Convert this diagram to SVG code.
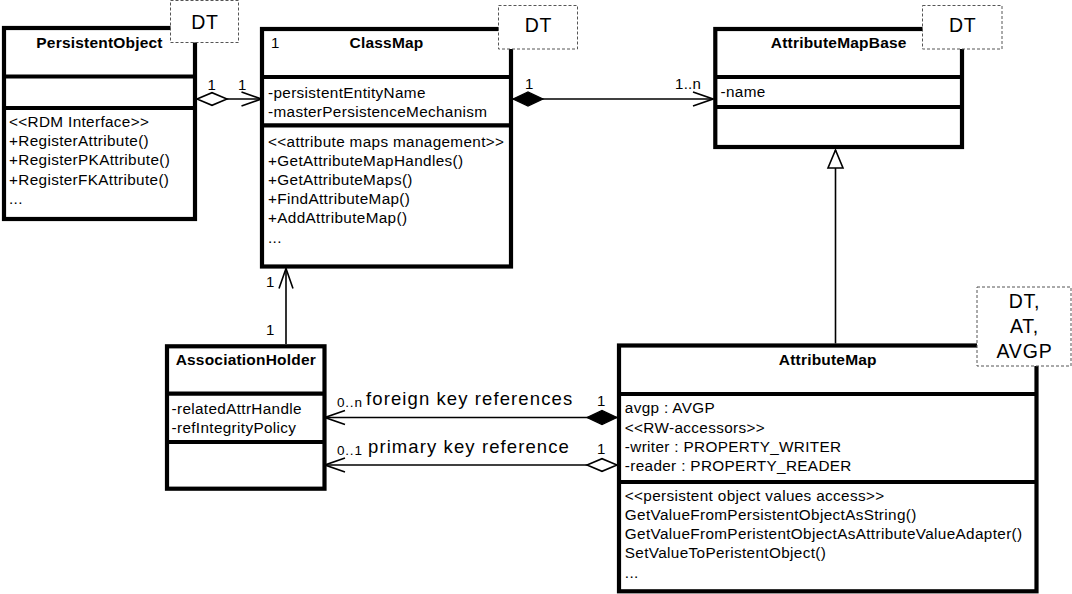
<svg xmlns="http://www.w3.org/2000/svg" width="1072" height="594" viewBox="0 0 1072 594">
<style>
  text { font-family: "Liberation Sans", Arial, sans-serif; fill: #000; }
  .box { fill: #fff; stroke: #000; stroke-width: 4.2; }
  .div { stroke: #000; stroke-width: 4.2; }
  .t { font-size: 15.5px; font-weight: bold; letter-spacing: 0.2px; text-anchor: middle; }
  .m { font-size: 15.3px; letter-spacing: 0.35px; }
  .lbl { font-size: 15px; letter-spacing: 0.3px; }
  .sm { font-size: 13.5px; letter-spacing: 0.8px; }
  .big { font-size: 18.5px; letter-spacing: 1.1px; }
  .note { fill: #fff; stroke: #555; stroke-width: 1; stroke-dasharray: 3 2; }
  .dt { font-size: 19.5px; letter-spacing: 0.8px; text-anchor: middle; }
  .con { fill: none; stroke: #000; stroke-width: 1.6; }
</style>
<defs>
  <marker id="open" viewBox="-22 -9 24 18" refX="0" refY="0" markerWidth="24" markerHeight="18" markerUnits="userSpaceOnUse" orient="auto">
    <path d="M -20 -7 L 0 0 L -20 7" fill="none" stroke="#000" stroke-width="1.6"/>
  </marker>
  <marker id="dfill" viewBox="-2 -9 34 18" refX="0" refY="0" markerWidth="34" markerHeight="18" markerUnits="userSpaceOnUse" orient="auto">
    <path d="M 0 0 L 15 -7 L 30 0 L 15 7 Z" fill="#000" stroke="#000" stroke-width="1.2"/>
  </marker>
  <marker id="dhollow" viewBox="-2 -9 34 18" refX="0" refY="0" markerWidth="34" markerHeight="18" markerUnits="userSpaceOnUse" orient="auto">
    <path d="M 0 0 L 15 -6.3 L 30 0 L 15 6.3 Z" fill="#fff" stroke="#000" stroke-width="1.6"/>
  </marker>
  <marker id="tri" viewBox="-20 -10 22 20" refX="0" refY="0" markerWidth="22" markerHeight="20" markerUnits="userSpaceOnUse" orient="auto">
    <path d="M 0 0 L -18 -7.5 L -18 7.5 Z" fill="#fff" stroke="#000" stroke-width="1.6"/>
  </marker>
</defs>
<rect width="1072" height="594" fill="#fff"/>

<g id="connectors">
  <line class="con" x1="197" y1="99" x2="261.5" y2="99" marker-start="url(#dhollow)" marker-end="url(#open)"/>
  <line class="con" x1="513" y1="99" x2="713" y2="99" marker-start="url(#dfill)" marker-end="url(#open)"/>
  <line class="con" x1="286" y1="344" x2="286" y2="268.5" marker-end="url(#open)"/>
  <line class="con" x1="835.5" y1="343.5" x2="835.5" y2="150" marker-end="url(#tri)"/>
  <line class="con" x1="617" y1="417.5" x2="325" y2="417.5" marker-start="url(#dfill)" marker-end="url(#open)"/>
  <line class="con" x1="617" y1="465" x2="325" y2="465" marker-start="url(#dhollow)" marker-end="url(#open)"/>
  <text class="lbl" x="207.5" y="90">1</text>
  <text class="lbl" x="238" y="90">1</text>
  <text class="lbl" x="525" y="89">1</text>
  <text class="lbl" x="675" y="89">1..n</text>
  <text class="lbl" x="266" y="287">1</text>
  <text class="lbl" x="266" y="335">1</text>
  <text class="sm" x="337" y="407">0..n</text>
  <text class="big" x="366" y="405">foreign key references</text>
  <text class="lbl" x="597" y="406">1</text>
  <text class="sm" x="337" y="455">0..1</text>
  <text class="big" x="368" y="453">primary key reference</text>
  <text class="lbl" x="597" y="454">1</text>
</g>

<g id="PersistentObject">
  <rect class="box" x="4" y="28" width="191" height="191"/>
  <line class="div" x1="4" y1="76.5" x2="195" y2="76.5"/>
  <line class="div" x1="4" y1="108" x2="195" y2="108"/>
  <text class="t" x="99.5" y="48">PersistentObject</text>
  <text class="m" x="9" y="127">&lt;&lt;RDM Interface&gt;&gt;</text>
  <text class="m" x="9" y="146.2">+RegisterAttribute()</text>
  <text class="m" x="9" y="165.4">+RegisterPKAttribute()</text>
  <text class="m" x="9" y="184.6">+RegisterFKAttribute()</text>
  <text class="m" x="9" y="203.8">...</text>
  <rect class="note" x="170.5" y="0.5" width="68" height="42"/>
  <text class="dt" x="205" y="29">DT</text>
</g>

<g id="ClassMap">
  <rect class="box" x="262" y="29" width="249" height="237.5"/>
  <line class="div" x1="262" y1="77" x2="511" y2="77"/>
  <line class="div" x1="262" y1="125.3" x2="511" y2="125.3"/>
  <text class="lbl" x="271" y="47.7">1</text>
  <text class="t" x="386.5" y="47.7">ClassMap</text>
  <text class="m" x="268" y="97.7">-persistentEntityName</text>
  <text class="m" x="268" y="116.8">-masterPersistenceMechanism</text>
  <text class="m" x="268" y="146.6">&lt;&lt;attribute maps management&gt;&gt;</text>
  <text class="m" x="268" y="165.8">+GetAttributeMapHandles()</text>
  <text class="m" x="268" y="185">+GetAttributeMaps()</text>
  <text class="m" x="268" y="204.2">+FindAttributeMap()</text>
  <text class="m" x="268" y="223.4">+AddAttributeMap()</text>
  <text class="m" x="268" y="242.6">...</text>
  <rect class="note" x="498.5" y="5.5" width="79" height="43.5"/>
  <text class="dt" x="538.5" y="32">DT</text>
</g>

<g id="AttributeMapBase">
  <rect class="box" x="715.3" y="29" width="246.7" height="118"/>
  <line class="div" x1="715.3" y1="77" x2="962" y2="77"/>
  <line class="div" x1="715.3" y1="107" x2="962" y2="107"/>
  <text class="t" x="838.7" y="47.7">AttributeMapBase</text>
  <text class="m" x="720.5" y="96.7">-name</text>
  <rect class="note" x="922.5" y="5.5" width="79.5" height="43.5"/>
  <text class="dt" x="962.7" y="32">DT</text>
</g>

<g id="AssociationHolder">
  <rect class="box" x="167" y="346.3" width="157.5" height="142.4"/>
  <line class="div" x1="167" y1="393.7" x2="324.5" y2="393.7"/>
  <line class="div" x1="167" y1="442" x2="324.5" y2="442"/>
  <text class="t" x="245.8" y="365">AssociationHolder</text>
  <text class="m" x="171.5" y="414">-relatedAttrHandle</text>
  <text class="m" x="171.5" y="432.8">-refIntegrityPolicy</text>
</g>

<g id="AttributeMap">
  <rect class="box" x="619" y="345.5" width="417.5" height="245.8"/>
  <line class="div" x1="619" y1="394" x2="1036.5" y2="394"/>
  <line class="div" x1="619" y1="482" x2="1036.5" y2="482"/>
  <text class="t" x="827.8" y="365">AttributeMap</text>
  <text class="m" x="624.8" y="413.4">avgp : AVGP</text>
  <text class="m" x="624.8" y="432.5">&lt;&lt;RW-accessors&gt;&gt;</text>
  <text class="m" x="624.8" y="451.7">-writer : PROPERTY_WRITER</text>
  <text class="m" x="624.8" y="470.8">-reader : PROPERTY_READER</text>
  <text class="m" x="624.8" y="500.8">&lt;&lt;persistent object values access&gt;&gt;</text>
  <text class="m" x="624.8" y="520">GetValueFromPersistentObjectAsString()</text>
  <text class="m" x="624.8" y="539.2">GetValueFromPeristentObjectAsAttributeValueAdapter()</text>
  <text class="m" x="624.8" y="558.4">SetValueToPeristentObject()</text>
  <text class="m" x="624.8" y="577.6">...</text>
  <rect class="note" x="977" y="287" width="94" height="79"/>
  <text class="dt" x="1024.5" y="307.5">DT,</text>
  <text class="dt" x="1024.5" y="332.8">AT,</text>
  <text class="dt" x="1024.5" y="358.3">AVGP</text>
</g>
</svg>
